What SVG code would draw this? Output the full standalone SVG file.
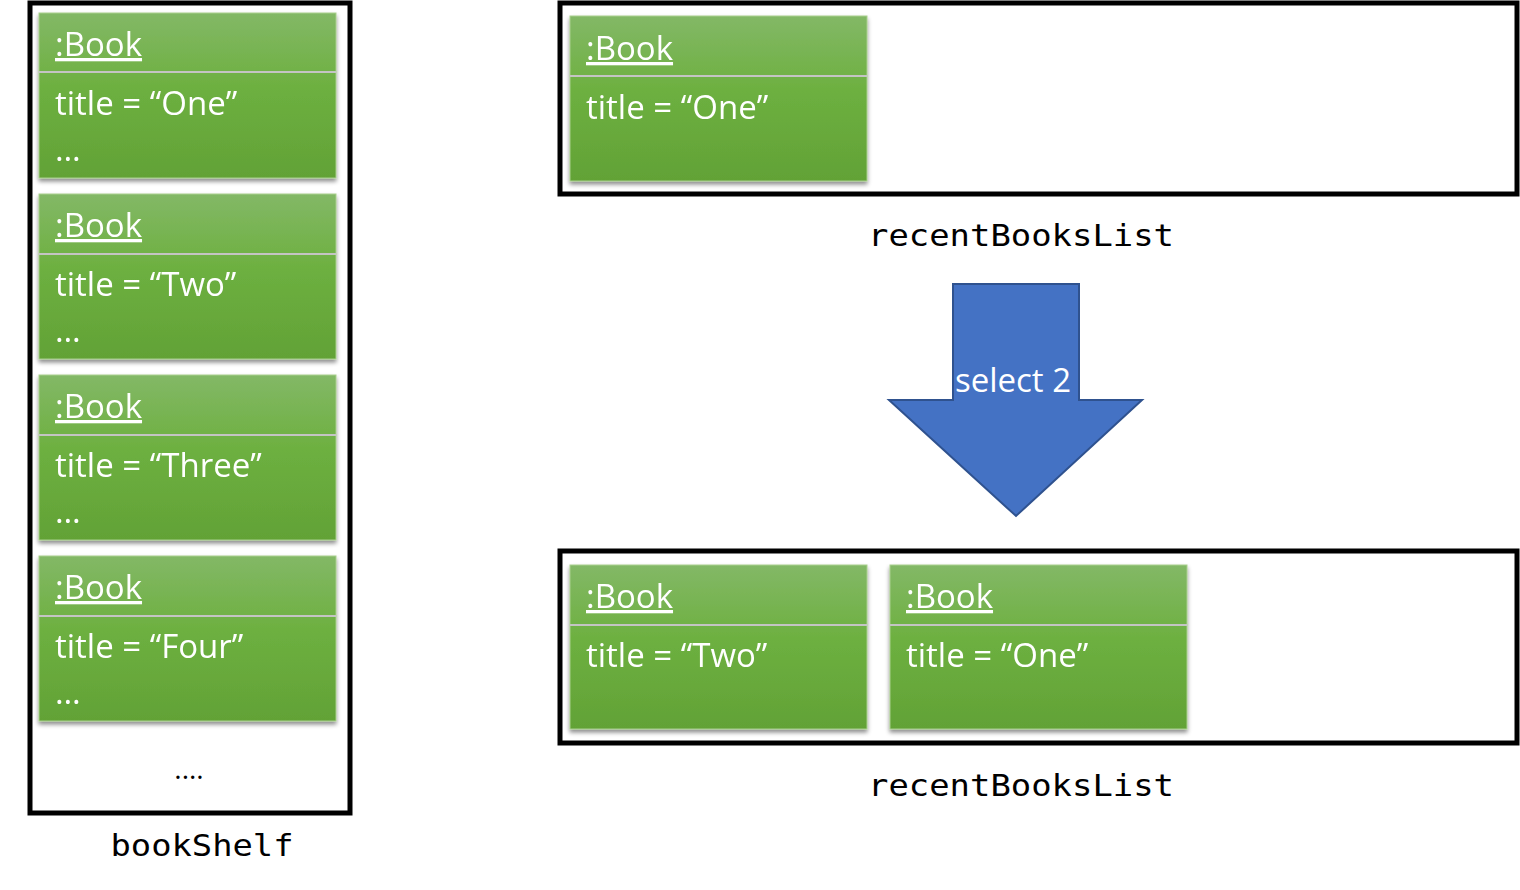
<svg xmlns="http://www.w3.org/2000/svg" width="1520" height="890" viewBox="0 0 1520 890">
<style>
.frame{fill:#fff;stroke:#000;stroke-width:5}
.card{fill:url(#g);stroke:#A9CF8E;stroke-width:1}
.div{stroke:#C4C4C4;stroke-width:2}
.w{font-family:"Open Sans","Noto Sans",sans-serif;font-size:33px;fill:#fff;font-variant-ligatures:none}
.u{text-decoration:underline}
.m{font-family:"DejaVu Sans Mono","Liberation Mono",monospace;font-size:31px;fill:#000}
</style>
<defs>
<linearGradient id="g" x1="0" y1="0" x2="0" y2="1">
<stop offset="0" stop-color="#83B866"/>
<stop offset="0.45" stop-color="#6DB040"/>
<stop offset="1" stop-color="#62A236"/>
</linearGradient>
<filter id="sh" x="-5%" y="-5%" width="110%" height="115%">
<feDropShadow dx="0" dy="3" stdDeviation="2" flood-color="#000" flood-opacity="0.45"/>
</filter>
</defs>
<rect class="frame" x="30" y="3" width="320" height="810"/>
<rect class="frame" x="560" y="3" width="957" height="191"/>
<rect class="frame" x="560" y="551" width="957" height="192"/>
<g id="shelf1" filter="url(#sh)"><rect class="card" x="39" y="13" width="297" height="165"/><line class="div" x1="39" y1="72" x2="336" y2="72"/><text class="w u" x="55" y="56">:Book</text><text class="w" x="55" y="115">title = “One”</text><text class="w" x="55" y="161">…</text></g>
<g id="shelf2" filter="url(#sh)"><rect class="card" x="39" y="194" width="297" height="165"/><line class="div" x1="39" y1="254" x2="336" y2="254"/><text class="w u" x="55" y="237">:Book</text><text class="w" x="55" y="296">title = “Two”</text><text class="w" x="55" y="342">…</text></g>
<g id="shelf3" filter="url(#sh)"><rect class="card" x="39" y="375" width="297" height="165"/><line class="div" x1="39" y1="435" x2="336" y2="435"/><text class="w u" x="55" y="418">:Book</text><text class="w" x="55" y="477">title = “Three”</text><text class="w" x="55" y="523">…</text></g>
<g id="shelf4" filter="url(#sh)"><rect class="card" x="39" y="556" width="297" height="165"/><line class="div" x1="39" y1="616" x2="336" y2="616"/><text class="w u" x="55" y="599">:Book</text><text class="w" x="55" y="658">title = “Four”</text><text class="w" x="55" y="704">…</text></g>
<text x="189" y="779" text-anchor="middle" font-family="'Open Sans',sans-serif" font-size="28" fill="#000">....</text>
<text id="lbl-shelf" class="m" x="202" y="856" text-anchor="middle" textLength="183" lengthAdjust="spacingAndGlyphs">bookShelf</text>
<g id="recent1" filter="url(#sh)"><rect class="card" x="570" y="16" width="297" height="165"/><line class="div" x1="570" y1="76" x2="867" y2="76"/><text class="w u" x="586" y="60">:Book</text><text class="w" x="586" y="119">title = “One”</text></g>
<text id="lbl-r1" class="m" x="1021" y="246" text-anchor="middle" textLength="306" lengthAdjust="spacingAndGlyphs">recentBooksList</text>
<g id="connectors"><g id="arrow"><path d="M953,284 H1079 V400 H1142 L1016,516 L889,400 H953 Z" fill="#4472C4" stroke="#2F528F" stroke-width="2"/><text class="w" x="1013" y="392" text-anchor="middle">select 2</text></g></g>
<g id="recent2a" filter="url(#sh)"><rect class="card" x="570" y="565" width="297" height="164"/><line class="div" x1="570" y1="625" x2="867" y2="625"/><text class="w u" x="586" y="608">:Book</text><text class="w" x="586" y="667">title = “Two”</text></g>
<g id="recent2b" filter="url(#sh)"><rect class="card" x="890" y="565" width="297" height="164"/><line class="div" x1="890" y1="625" x2="1187" y2="625"/><text class="w u" x="906" y="608">:Book</text><text class="w" x="906" y="667">title = “One”</text></g>
<text id="lbl-r2" class="m" x="1021" y="796" text-anchor="middle" textLength="306" lengthAdjust="spacingAndGlyphs">recentBooksList</text>
</svg>
